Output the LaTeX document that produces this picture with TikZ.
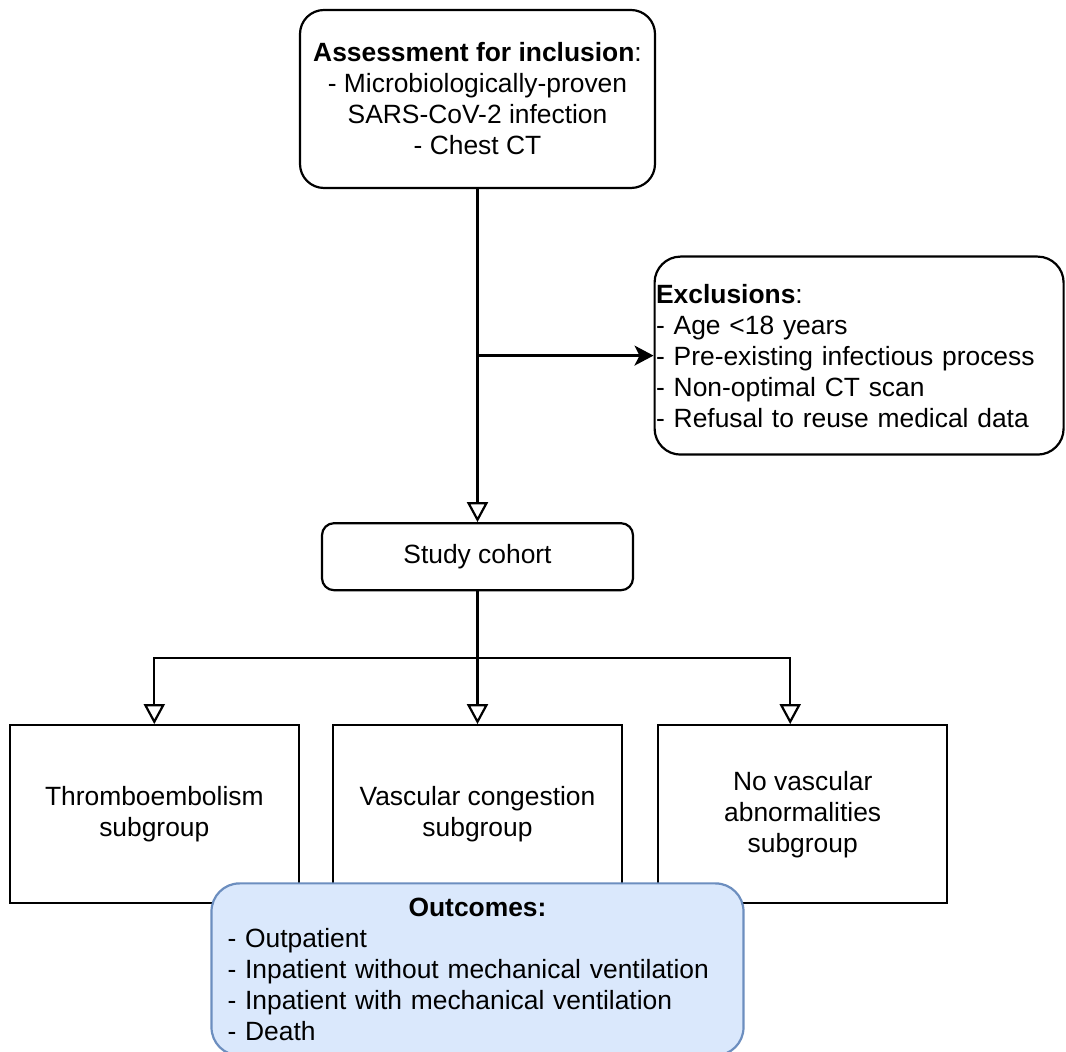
\documentclass[tikz,border=0pt]{standalone}
\usepackage{fontspec}
\setmainfont{Liberation Sans}
\usetikzlibrary{arrows.meta,positioning,calc}
\definecolor{outfill}{HTML}{DAE8FC}
\definecolor{outdraw}{HTML}{6C8EBF}
\tikzset{
    %Define standard arrow tip
    >={Triangle[open,length=10pt,width=10.5pt]},
    %Define style for boxes
    punkt/.style={
		rectangle,
		rounded corners=12pt,
		draw=black, line width=1.1pt,
		inner sep=2pt,
		font=\fontsize{13.2}{15.5}\selectfont,
		align=center},
	subgroup/.style={
		punkt,
		sharp corners,
		minimum width=144.5pt,
		minimum height=89pt},
	outcome/.style={
		punkt,
		rounded corners=14pt,
		draw=outdraw, fill=outfill,
		minimum width=266pt,
		minimum height=86pt,
		text width=250pt,
		inner xsep=8pt,
		align=left},
	line/.style = {
		->,
		draw,
		line width=1.1pt},
	exline/.style = {
		draw,
		line width=1.1pt,
		-{Stealth[length=9.5pt,width=10pt,inset=2.5pt]}}
}
\begin{document}
\begin{tikzpicture}[node distance=1cm, auto, x=0.5pt, y=-0.5pt]
	\useasboundingbox (0,0) rectangle (1066,1052);
	\node[punkt, minimum width=177.5pt, minimum height=89pt] (incl) at (477.5,99)
		{\textbf{Assessment for inclusion}:\\- Microbiologically-proven\\SARS-CoV-2 infection\\- Chest CT};
	\node[punkt, rounded corners=6pt, minimum width=155.5pt, minimum height=33.5pt, below=166.5pt of incl] (cohort) {Study cohort};
	\coordinate (split) at ($(incl.south)!0.5!(cohort.north)$);
	\node[punkt, rounded corners=13pt, minimum width=204.5pt, minimum height=99pt, text width=203pt, inner xsep=0.75pt, align=left, right=88pt of split] (excl)
		{\textbf{Exclusions}:\\- Age <18 years\\- Pre-existing infectious process\\- Non-optimal CT scan\\- Refusal to reuse medical data};
	\node[subgroup, below=66.4pt of cohort] (sub2) {Vascular congestion\\subgroup};
	\node[subgroup, left=16pt of sub2] (sub1) {Thromboembolism\\subgroup};
	\node[subgroup, right=17pt of sub2] (sub3) {No vascular\\abnormalities\\subgroup};
	\coordinate (fork) at ($(cohort.south)!0.5!(sub2.north)$);
	\node[outcome, below=-11pt of sub2] (outc)
		{\makebox[\linewidth]{\textbf{Outcomes:}}\\- Outpatient\\- Inpatient without mechanical ventilation\\- Inpatient with mechanical ventilation\\- Death};
	\path[line]	(incl)--(cohort);
	\path[exline]	(split)--(excl);
	\path[line]	(cohort)--(sub2);
	\path[line]	(fork)-|(sub1);
	\path[line]	(fork)-|([xshift=-6.25pt]sub3.north);
\end{tikzpicture}
\end{document}
